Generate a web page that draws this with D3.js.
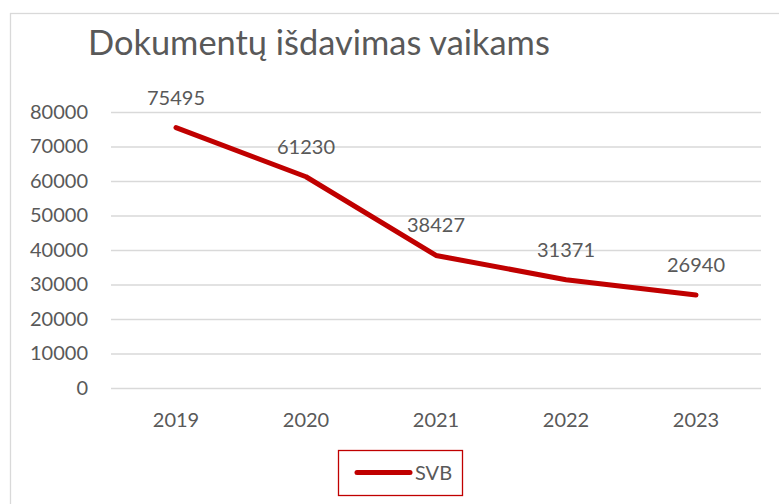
<!DOCTYPE html>
<html><head><meta charset="utf-8">
<script src="https://cdn.jsdelivr.net/npm/d3@7"></script>
<style>html,body{margin:0;padding:0;background:#fff;}svg{display:block;}</style>
</head><body>
<svg id="c" width="779" height="504"></svg>
<script>
const categories = ["2019","2020","2021","2022","2023"];
const values = [75495, 61230, 38427, 31371, 26940];
const yTicks = [0,10000,20000,30000,40000,50000,60000,70000,80000];
const seriesName = "SVB";
const title = "Dokumentų išdavimas vaikams";

const svg = d3.select("#c");
const font = "Lato, 'Open Sans', sans-serif";
const txt = "#595959";
const red = "#C00000";

svg.append("rect").attr("x",10.5).attr("y",13.5).attr("width",800).attr("height",600)
  .attr("fill","#fff").attr("stroke","#d9d9d9").attr("stroke-width",1.3);

const x = d3.scaleBand().domain(categories).range([111,761]);
const y = d3.scaleLinear().domain([0,80000]).range([388,112]);

const t = svg.append("text").attr("x",88).attr("y",55).attr("fill",txt)
  .attr("font-family",font).attr("font-size",32).text(title);
const w = t.node().getComputedTextLength();
t.attr("font-size", 32*462/w);

const yAxis = svg.append("g").attr("transform","translate(111,0)")
  .call(d3.axisLeft(y).tickValues(yTicks).tickSize(-650).tickPadding(23).tickFormat(d3.format("d")));
yAxis.select(".domain").remove();
yAxis.selectAll("line").attr("stroke","#d9d9d9").attr("stroke-width",1.3);
yAxis.selectAll("text").attr("fill",txt).attr("font-family",font).attr("font-size",20);

const xAxis = svg.append("g").attr("transform","translate(0,388)")
  .call(d3.axisBottom(x).tickSize(0).tickPadding(25));
xAxis.select(".domain").remove();
xAxis.selectAll("text").attr("fill",txt).attr("font-family",font).attr("font-size",20);

const cx = d => x(d) + x.bandwidth()/2;
const line = d3.line().x((d,i)=>cx(categories[i])).y(d=>y(d));
svg.append("path").datum(values).attr("d",line).attr("fill","none")
  .attr("stroke",red).attr("stroke-width",5).attr("stroke-linecap","round").attr("stroke-linejoin","round");

svg.selectAll(".lbl").data(values).enter().append("text")
  .attr("x",(d,i)=>cx(categories[i])).attr("y",d=>y(d)-23)
  .attr("text-anchor","middle").attr("fill",txt).attr("font-family",font).attr("font-size",20)
  .text(d=>d);

const lg = svg.append("g");
lg.append("rect").attr("x",338.5).attr("y",450.5).attr("width",124).attr("height",45)
  .attr("fill","#fff").attr("stroke",red).attr("stroke-width",1.3);
lg.append("line").attr("x1",357).attr("x2",410).attr("y1",472.5).attr("y2",472.5)
  .attr("stroke",red).attr("stroke-width",5).attr("stroke-linecap","round");
lg.append("text").attr("x",415).attr("y",480).attr("fill",txt).attr("font-family",font)
  .attr("font-size",20).text(seriesName);
</script>
</body></html>
